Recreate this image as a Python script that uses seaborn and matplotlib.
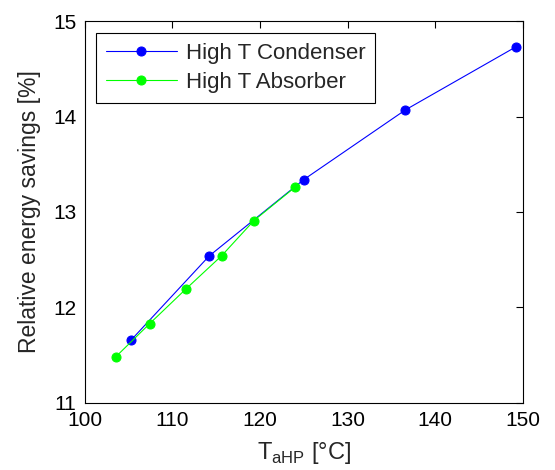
import matplotlib
matplotlib.use("Agg")
import matplotlib.pyplot as plt
import seaborn as sns

# values
cond_t = [105.3, 114.2, 125.0, 136.6, 149.2]
cond_sav = [11.66, 12.54, 13.34, 14.07, 14.73]
abs_t = [103.5, 107.4, 111.5, 115.6, 119.3, 124.0]
abs_sav = [11.48, 11.83, 12.19, 12.54, 12.91, 13.26]

sns.set_style("white")
plt.rcParams['font.family'] = ['Liberation Sans', 'DejaVu Sans']
plt.rcParams['mathtext.fontset'] = 'custom'
plt.rcParams['mathtext.rm'] = 'Liberation Sans'

fig = plt.figure(figsize=(5.55, 4.7), dpi=100)
ax = fig.add_axes([0.153, 0.143, 0.789, 0.812])

sns.lineplot(x=cond_t, y=cond_sav, ax=ax, color=(0, 0, 1), marker='o', markersize=6.5,
             markeredgecolor=(0, 0, 1), linewidth=0.8, sort=False, label='High T Condenser')
sns.lineplot(x=abs_t, y=abs_sav, ax=ax, color=(0, 1, 0), marker='o', markersize=6.5,
             markeredgecolor=(0, 1, 0), linewidth=0.8, sort=False, label='High T Absorber')

ax.set_xlim(100, 150)
ax.set_ylim(11, 15)
ax.set_xticks([100, 110, 120, 130, 140, 150])
ax.set_yticks([11, 12, 13, 14, 15])
ax.tick_params(direction='in', length=5, width=0.8, top=True, right=True,
               labelsize=15, colors='black', pad=6)
for s in ax.spines.values():
    s.set_color('black')
    s.set_linewidth(0.8)

ax.set_xlabel(r'T$_{\mathregular{aHP}}$ [°C]', fontsize=17, labelpad=7)
ax.set_ylabel('Relative energy savings [%]', fontsize=16.5, labelpad=9)

leg = ax.legend(loc='upper left', fontsize=16, frameon=True, fancybox=False,
                edgecolor='black', framealpha=1, handlelength=3.2, handletextpad=0.4,
                borderpad=0.45, labelspacing=0.35, borderaxespad=0,
                bbox_to_anchor=(0.025, 0.969))
leg.get_frame().set_linewidth(0.8)

fig.savefig('out.png', dpi=100)
